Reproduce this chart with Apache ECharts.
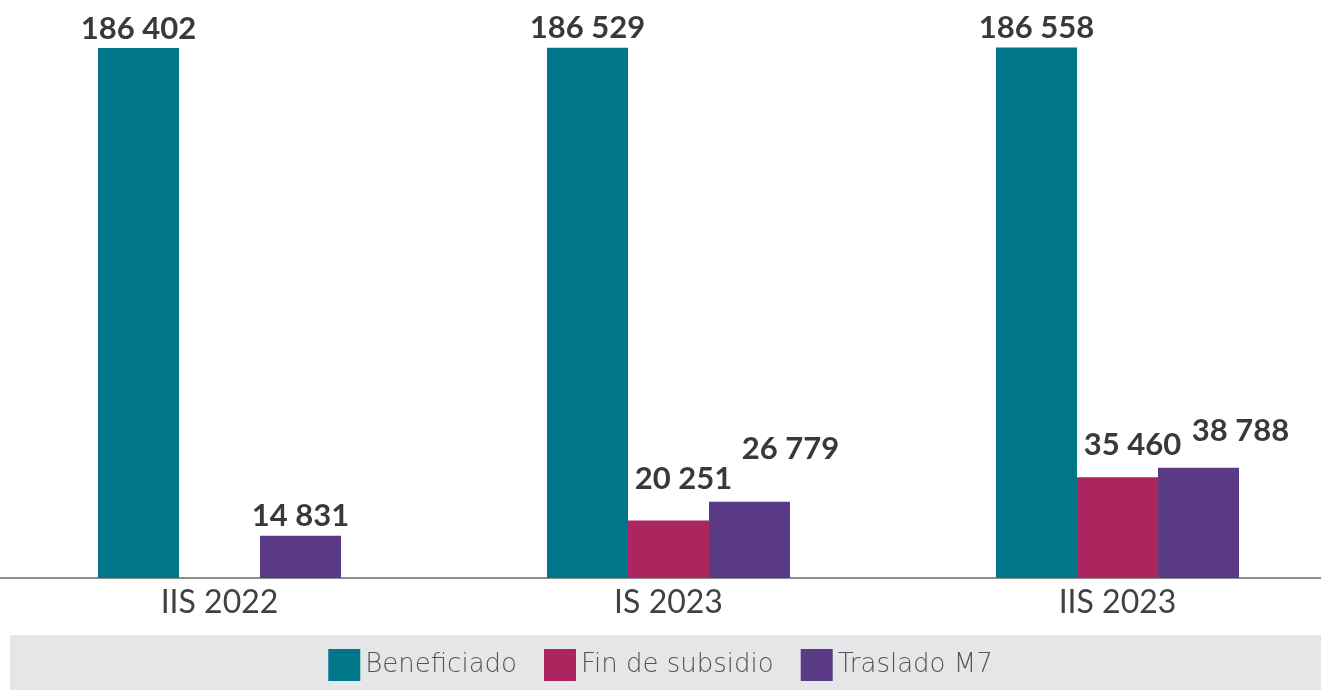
<!DOCTYPE html>
<html>
<head>
<meta charset="utf-8">
<script src="https://cdn.jsdelivr.net/npm/echarts@6/dist/echarts.min.js"></script>
<style>
  html, body { margin: 0; padding: 0; background: #fff; }
  #chart { width: 1321px; height: 690px; }
</style>
</head>
<body>
<div id="chart"></div>
<script>
    // datos del gráfico
    var categories = ['IIS 2022', 'IS 2023', 'IIS 2023']
    var seriesNames = ['Beneficiado', 'Fin de subsidio', 'Traslado M7']
    var beneficiado = [186402, 186529, 186558]
    var finSubsidio = [null, 20251, 35460]
    var trasladoM7 = [14831, 26779, 38788]

    // desplazamiento de etiquetas [x, y] como en el original
    var shiftFin = [[0, 0], [15, -22], [15, -13]]
    var shiftM7 = [[0, 0], [41, -33], [42, -17]]

    var colors = ['#00768A', '#AB265E', '#5A3A84']

    function fmt(v) {
        return String(v).replace(/\B(?=(\d{3})+(?!\d))/g, ' ')
    }

    function buildData(values, shifts) {
        return values.map(function (v, i) {
            var s = shifts ? shifts[i] : [0, 0]
            return { value: v, label: { offset: s } }
        })
    }

    var labelStyle = {
        show: true,
        position: 'top',
        distance: 4,
        fontFamily: 'Lato',
        fontWeight: 'bold',
        fontSize: 31,
        color: '#383a3a',
        formatter: function (p) { return fmt(p.value) }
    }

    var chart = echarts.init(document.getElementById('chart'))
    chart.setOption({
        animation: false,
        color: colors,
        grid: {
            left: -5,
            right: -21,
            top: 9.4,
            bottom: 112,
            outerBoundsMode: 'none'
        },
        legend: {
            data: seriesNames,
            bottom: 4,
            left: 'center',
            icon: 'rect',
            itemWidth: 32,
            itemHeight: 32,
            itemGap: 27,
            textStyle: {
                fontFamily: 'DejaVu Sans',
                fontWeight: 200,
                fontSize: 26,
                color: '#555'
            }
        },
        graphic: [{
            type: 'rect',
            z: -1,
            shape: { x: 10, y: 635, width: 1311, height: 55 },
            style: { fill: '#E5E6E8' }
        }],
        xAxis: {
            type: 'category',
            data: categories,
            axisLine: { lineStyle: { color: '#8e8e8e', width: 2 } },
            axisTick: { show: false },
            axisLabel: {
                margin: 9,
                fontFamily: 'Lato',
                fontSize: 32,
                color: '#404242'
            }
        },
        yAxis: {
            type: 'value',
            min: 0,
            max: 200000,
            show: false,
            splitLine: { show: false }
        },
        series: [
            {
                name: seriesNames[0],
                type: 'bar',
                barWidth: 81,
                barGap: '0%',
                label: labelStyle,
                data: buildData(beneficiado)
            },
            {
                name: seriesNames[1],
                type: 'bar',
                barWidth: 81,
                barGap: '0%',
                label: labelStyle,
                data: buildData(finSubsidio, shiftFin)
            },
            {
                name: seriesNames[2],
                type: 'bar',
                barWidth: 81,
                barGap: '0%',
                label: labelStyle,
                data: buildData(trasladoM7, shiftM7)
            }
        ]
    })
</script>
</body>
</html>
